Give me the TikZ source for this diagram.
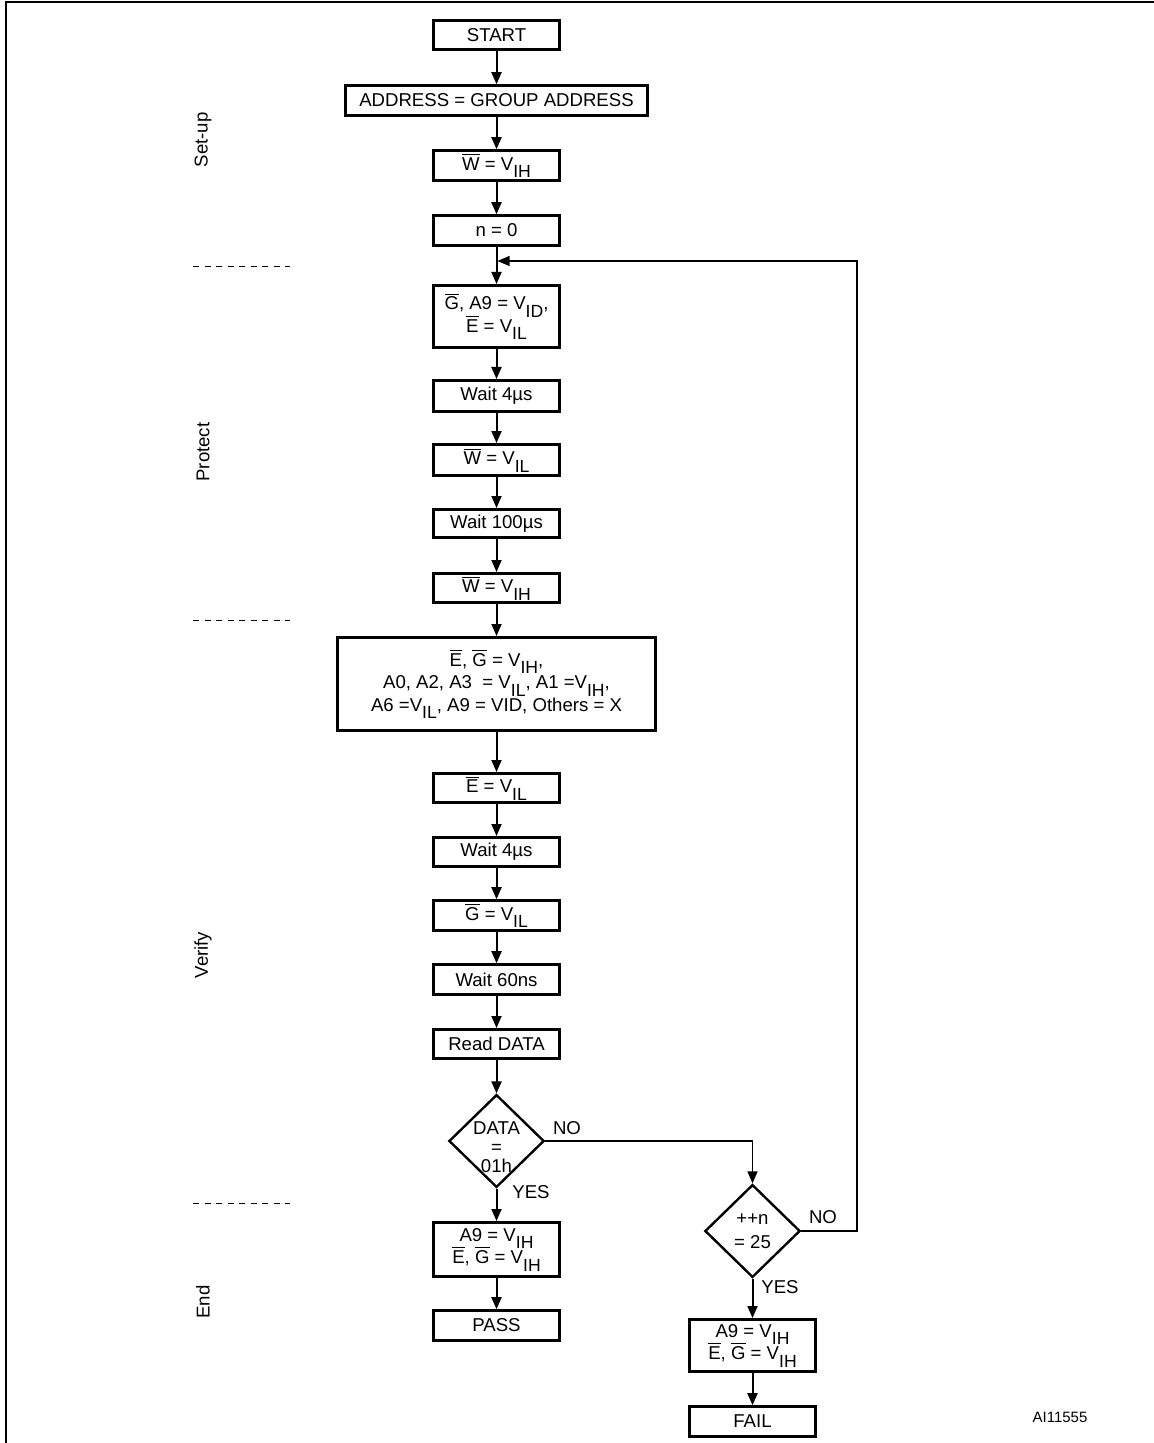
\documentclass[tikz,border=0pt]{standalone}
\usepackage{fontspec}
\setmainfont{Liberation Sans}
\usetikzlibrary{arrows.meta, shapes.geometric}

\newcommand{\ovl}[1]{$\overline{\mbox{#1}}$}
\newcommand{\vsub}[1]{\raisebox{-3.8pt}{\fontsize{8.8}{9}\selectfont #1}}
\newcommand{\boxfont}{\fontsize{9.3}{11.2}\selectfont\lineskiplimit-\maxdimen\relax}

\tikzstyle{box}=[rectangle, draw, line width=1.5pt, minimum width=63pt, minimum height=14.8pt, inner sep=0pt, align=center, font=\boxfont]
\tikzstyle{test}=[diamond, draw, line width=1.2pt, inner sep=0pt, minimum width=47.6pt, minimum height=46.4pt]
\tikzstyle{phase}=[rotate=90, font=\fontsize{9.3}{11}\selectfont]
\tikzstyle{answer}=[font=\fontsize{9.3}{11}\selectfont]
\tikzstyle{flow}=[-{Triangle[length=6pt, width=5pt]}, line width=1pt]
\tikzstyle{sep}=[line width=0.5pt, dash pattern=on 3pt off 2.75pt]

\begin{document}
\begin{tikzpicture}[x=0.5pt, y=-0.5pt]
        \useasboundingbox (0, 0) rectangle (1154, 1443);
        \draw[line width=1pt] (6, 1443) -- (6, 2) -- (1154, 2);

        \node[box](start) at (496.5, 35) {START};
        \node[box, minimum width=151pt](addr) at (496.5, 100.5) {ADDRESS = GROUP ADDRESS};
        \node[box](wih1) at (496.5, 165.5) {\ovl{W} = V\vsub{IH}};
        \node[box](n0) at (496.5, 230.5) {n = 0};

        \node[box, minimum height=31pt](gset) at (496.5, 316.5) {\ovl{G}, A9 = V\vsub{ID},\\\ovl{E} = V\vsub{IL}};
        \node[box, minimum height=15.5pt](wait4a) at (496.5, 396) {Wait 4µs};
        \node[box, minimum height=15.5pt](wil) at (496.5, 460) {\ovl{W} = V\vsub{IL}};
        \node[box, minimum height=14pt](wait100) at (496.5, 523.5) {Wait 100µs};
        \node[box, minimum height=14.5pt](wih2) at (496.5, 588) {\ovl{W} = V\vsub{IH}};

        \node[box, minimum width=159pt, minimum height=46.5pt](cfg) at (496.5, 684) {\ovl{E}, \ovl{G} = V\vsub{IH},\\A0, A2, A3~ = V\vsub{IL}, A1 =V\vsub{IH},\\A6 =V\vsub{IL}, A9 = VID, Others = X};
        \node[box, minimum height=14.5pt](eil) at (496.5, 788) {\ovl{E} = V\vsub{IL}};
        \node[box, minimum height=14.5pt](wait4b) at (496.5, 852) {Wait 4µs};
        \node[box](gil) at (496.5, 915.5) {\ovl{G} = V\vsub{IL}};
        \node[box](wait60) at (496.5, 979.5) {Wait 60ns};
        \node[box, minimum height=14.5pt](read) at (496.5, 1044) {Read DATA};

        \node[test, label={[answer, align=center, yshift=-3pt, font=\fontsize{9.3}{9.5}\selectfont]center:DATA\\=\\01h}](check) at (496.5, 1141) {};
        \node[box, minimum height=27pt](endok) at (496.5, 1249.5) {A9 = V\vsub{IH}\\\ovl{E}, \ovl{G} = V\vsub{IH}};
        \node[box](pass) at (496.5, 1325.5) {PASS};

        \node[test, label={[answer, align=center, font=\fontsize{9.3}{12}\selectfont]center:++n\\= 25}](count) at (752.5, 1231) {};
        \node[box, minimum height=26pt](endko) at (752.5, 1345.5) {A9 = V\vsub{IH}\\\ovl{E}, \ovl{G} = V\vsub{IH}};
        \node[box](fail) at (752.5, 1421.5) {FAIL};

        \node[answer](no1) at (567, 1128) {NO};
        \node[answer](yes1) at (531, 1192) {YES};
        \node[answer](no2) at (823, 1217) {NO};
        \node[answer](yes2) at (780, 1287) {YES};

        \node[phase](setup) at (203, 140) {Set-up};
        \node[phase](protect) at (203, 452) {Protect};
        \node[phase](verify) at (203, 955) {Verify};
        \node[phase](end) at (203, 1302) {End};
        \node[font=\fontsize{7.5}{9}\selectfont](code) at (1060, 1417) {AI11555};

        \draw[sep] (193, 267) -- (290, 267);
        \draw[sep] (193, 620) -- (290, 620);
        \draw[sep] (193, 1203) -- (290, 1203);

        \coordinate (join) at (496.5, 261);
        \coordinate (back) at (857, 261);

        \begin{scope}[flow]
            \draw (start) -- (addr);
            \draw (addr) -- (wih1);
            \draw (wih1) -- (n0);
            \draw (n0) -- (gset);
            \draw (gset) -- (wait4a);
            \draw (wait4a) -- (wil);
            \draw (wil) -- (wait100);
            \draw (wait100) -- (wih2);
            \draw (wih2) -- (cfg);
            \draw (cfg) -- (eil);
            \draw (eil) -- (wait4b);
            \draw (wait4b) -- (gil);
            \draw (gil) -- (wait60);
            \draw (wait60) -- (read);
            \draw (read) -- (check);
            \draw (check) -- (endok);
            \draw (endok) -- (pass);
            \draw[line width=0.75pt] (check.east) -| (count.north);
            \draw (count) -- (endko);
            \draw (endko) -- (fail);
            \draw[line width=0.55pt, shorten >=0.5pt] (count.east) -| (back) -- (join);
        \end{scope}
    \end{tikzpicture}
\end{document}
